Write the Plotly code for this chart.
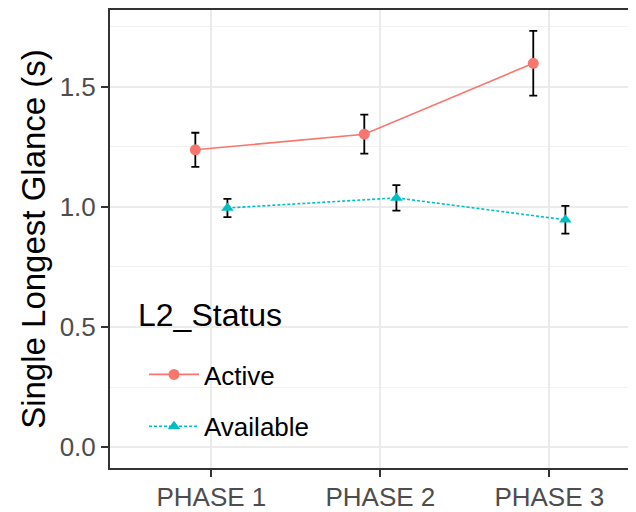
import plotly.graph_objects as go

# ---- data ----
phases = ["PHASE 1", "PHASE 2", "PHASE 3"]
active_mean = [1.237, 1.302, 1.597]
active_se = [0.071, 0.081, 0.135]
available_mean = [0.995, 1.037, 0.946]
available_se = [0.038, 0.053, 0.058]
y_ticks = [0.0, 0.5, 1.0, 1.5]
y_ticktext = ["0.0", "0.5", "1.0", "1.5"]
legend_title = "L2_Status"

DODGE = 0.095
FONT = "Liberation Sans, Arial, sans-serif"
base_x = list(range(1, len(phases) + 1))

# the page body has an 8px margin, so the figure is drawn 8px smaller
W, H = 628, 504
L, T, B = 102, 2, 44          # plot area: x 102..628, y 2..460 (figure px)
PW, PH = W - L, H - T - B


def px(xw):   # window x -> paper fraction
    return (xw - 8 - L) / PW


def py(yw):   # window y -> paper fraction
    return (H - B - (yw - 8)) / PH


fig = go.Figure()
fig.add_trace(go.Scatter(
    x=[b - DODGE for b in base_x], y=active_mean, name="Active",
    mode="lines+markers",
    line=dict(color="#F8766D", width=1.6),
    marker=dict(symbol="circle", size=11, color="#F8766D"),
    error_y=dict(type="data", array=active_se, visible=True,
                 color="black", thickness=1.8, width=4),
    legendgroup="a",
))
fig.add_trace(go.Scatter(
    x=[b + DODGE for b in base_x], y=available_mean, name="Available",
    mode="lines+markers",
    line=dict(color="#00BFC4", width=1.6, dash="3px,2px"),
    marker=dict(symbol="triangle-up", size=11, color="#00BFC4"),
    error_y=dict(type="data", array=available_se, visible=True,
                 color="black", thickness=1.8, width=4),
    legendgroup="b",
))

# white legend box (covers the grid like ggplot's legend background)
fig.add_shape(type="rect", xref="paper", yref="paper",
              x0=px(120), x1=px(331), y0=py(458), y1=py(275),
              fillcolor="white", line=dict(width=0), layer="between")

# legend title
fig.add_annotation(text=legend_title, xref="paper", yref="paper",
                   x=px(136), y=py(315),
                   xanchor="left", yanchor="middle", showarrow=False,
                   font=dict(size=32, color="black", family=FONT))

fig.update_layout(
    width=W, height=H,
    margin=dict(l=L, r=0, t=T, b=B),
    paper_bgcolor="white", plot_bgcolor="white",
    font=dict(family=FONT, color="black"),
    showlegend=True,
    legend=dict(
        font=dict(size=26, color="black"),
        x=px(144), y=py(351), xanchor="left", yanchor="top",
        bgcolor="rgba(0,0,0,0)", borderwidth=0,
        tracegroupgap=15, itemwidth=50,
    ),
)
fig.update_xaxes(
    range=[0.4, 3.513], automargin=False,
    tickmode="array", tickvals=base_x, ticktext=phases,
    tickfont=dict(size=26, color="#4D4D4D"),
    ticks="outside", ticklen=7, tickwidth=1.6, tickcolor="#333333",
    ticklabelstandoff=-2,
    showgrid=True, gridcolor="#EBEBEB", gridwidth=1.6,
    showline=True, linecolor="#333333", linewidth=2, mirror=True,
    zeroline=False,
)
fig.update_yaxes(
    range=[-0.0866, 1.8186], automargin=False,
    tickmode="array", tickvals=y_ticks, ticktext=y_ticktext,
    tickfont=dict(size=26, color="#4D4D4D"),
    ticks="outside", ticklen=7, tickwidth=1.6, tickcolor="#333333",
    showgrid=True, gridcolor="#EBEBEB", gridwidth=1.6,
    minor=dict(tickvals=[0.25, 0.75, 1.25, 1.75], showgrid=True,
               gridcolor="#F2F2F2", gridwidth=1, ticks=""),
    showline=True, linecolor="#333333", linewidth=2, mirror=False,
    zeroline=False,
    title=dict(text="Single Longest Glance (s)", font=dict(size=33, color="black"),
               standoff=4),
)

fig.write_html("out.html")
